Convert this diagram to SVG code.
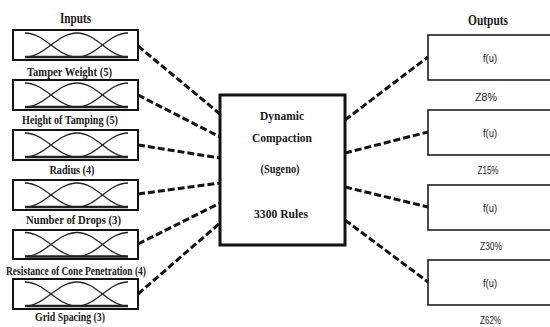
<svg xmlns="http://www.w3.org/2000/svg" xmlns:xlink="http://www.w3.org/1999/xlink" width="550" height="327" viewBox="0 0 550 327">
<style>
.bg{fill:#fff}
.inbox{fill:#fff;stroke:#111;stroke-width:2}
.cbox{fill:#fff;stroke:#111;stroke-width:3}
.obox{fill:#fff;stroke:#111;stroke-width:1.5}
.mf{fill:none;stroke:#222;stroke-width:1.3}
.mfb{fill:none;stroke:#222;stroke-width:2.5}
.conn{fill:none;stroke:#111;stroke-width:3;stroke-dasharray:7 3}
.serif{font-family:"Liberation Serif","Times New Roman",serif;font-weight:bold;fill:#1a1a1a;text-anchor:middle}
.lbl{font-size:12.5px}
.hdr{font-size:14px}
.ctr{font-size:13.5px}
.sans{font-family:"Liberation Sans",Arial,sans-serif;fill:#1a1a1a;text-anchor:middle;font-size:10px}
</style>
<defs>
<g id="mfset">
<path class="mf" d="M12,3 C32,3 44,27 64,27"/>
<path class="mf" d="M12,27 C32,27 44,3 64,3 C84,3 95,27 115,27"/>
<path class="mf" d="M64,27 C84,27 95,3 115,3"/>
<path class="mfb" d="M12,27 H115"/>
</g>
</defs>
<rect class="bg" x="0" y="0" width="550" height="327"/>
<text class="serif hdr" x="75.5" y="22.5" textLength="31" lengthAdjust="spacingAndGlyphs">Inputs</text>
<text class="serif hdr" x="488" y="24.5" textLength="40" lengthAdjust="spacingAndGlyphs">Outputs</text>
<g id="connectors">
<path class="conn" d="M138,46 L220,114"/>
<path class="conn" d="M138,95 L220,137"/>
<path class="conn" d="M138,145 L220,158"/>
<path class="conn" d="M138,194 L220,183"/>
<path class="conn" d="M138,244 L220,203"/>
<path class="conn" d="M138,294 L220,223"/>
<path class="conn" d="M345,120 L428,57"/>
<path class="conn" d="M345,153 L428,132"/>
<path class="conn" d="M345,187 L428,207"/>
<path class="conn" d="M345,220 L428,282"/>
</g>
<g id="in1">
<rect class="inbox" x="13" y="30" width="125" height="30"/>
<use xlink:href="#mfset" href="#mfset" transform="translate(13,30)"/>
<text class="serif lbl" x="69.5" y="76" textLength="85" lengthAdjust="spacingAndGlyphs">Tamper Weight (5)</text>
</g>
<g id="in2">
<rect class="inbox" x="13" y="80" width="125" height="30"/>
<use xlink:href="#mfset" href="#mfset" transform="translate(13,80)"/>
<text class="serif lbl" x="70" y="124" textLength="96" lengthAdjust="spacingAndGlyphs">Height of Tamping (5)</text>
</g>
<g id="in3">
<rect class="inbox" x="13" y="130" width="125" height="30"/>
<use xlink:href="#mfset" href="#mfset" transform="translate(13,130)"/>
<text class="serif lbl" x="72" y="174" textLength="45" lengthAdjust="spacingAndGlyphs">Radius (4)</text>
</g>
<g id="in4">
<rect class="inbox" x="13" y="180" width="125" height="30"/>
<use xlink:href="#mfset" href="#mfset" transform="translate(13,180)"/>
<text class="serif lbl" x="73.5" y="224" textLength="95" lengthAdjust="spacingAndGlyphs">Number of Drops (3)</text>
</g>
<g id="in5">
<rect class="inbox" x="13" y="230" width="125" height="29"/>
<use xlink:href="#mfset" href="#mfset" transform="translate(13,229.5)"/>
<text class="serif lbl" x="76" y="275" textLength="140" lengthAdjust="spacingAndGlyphs">Resistance of Cone Penetration (4)</text>
</g>
<g id="in6">
<rect class="inbox" x="13" y="279" width="125" height="30"/>
<use xlink:href="#mfset" href="#mfset" transform="translate(13,279)"/>
<text class="serif lbl" x="70" y="321" textLength="70" lengthAdjust="spacingAndGlyphs">Grid Spacing (3)</text>
</g>
<g id="center">
<rect class="cbox" x="220" y="95" width="125" height="150"/>
<text class="serif ctr" x="282" y="119.5" textLength="44" lengthAdjust="spacingAndGlyphs">Dynamic</text>
<text class="serif ctr" x="282" y="141.5" textLength="60" lengthAdjust="spacingAndGlyphs">Compaction</text>
<text class="serif ctr" x="280" y="172.5" textLength="39" lengthAdjust="spacingAndGlyphs">(Sugeno)</text>
<text class="serif ctr" x="281" y="217.5" textLength="54" lengthAdjust="spacingAndGlyphs">3300 Rules</text>
</g>
<g id="out1">
<rect class="obox" x="428" y="35" width="130" height="45"/>
<text class="sans" x="490" y="62" textLength="14" lengthAdjust="spacingAndGlyphs">f(u)</text>
<text class="sans" x="486" y="100.5" textLength="22" lengthAdjust="spacingAndGlyphs">Z8%</text>
</g>
<g id="out2">
<rect class="obox" x="428" y="110" width="130" height="45"/>
<text class="sans" x="490" y="136.5" textLength="14" lengthAdjust="spacingAndGlyphs">f(u)</text>
<text class="sans" x="488" y="174" textLength="21" lengthAdjust="spacingAndGlyphs">Z15%</text>
</g>
<g id="out3">
<rect class="obox" x="428" y="185" width="130" height="45"/>
<text class="sans" x="490" y="211.5" textLength="14" lengthAdjust="spacingAndGlyphs">f(u)</text>
<text class="sans" x="491" y="250" textLength="22" lengthAdjust="spacingAndGlyphs">Z30%</text>
</g>
<g id="out4">
<rect class="obox" x="428" y="260" width="130" height="45"/>
<text class="sans" x="490" y="286.5" textLength="14" lengthAdjust="spacingAndGlyphs">f(u)</text>
<text class="sans" x="490.5" y="324" textLength="21" lengthAdjust="spacingAndGlyphs">Z62%</text>
</g>
</svg>
